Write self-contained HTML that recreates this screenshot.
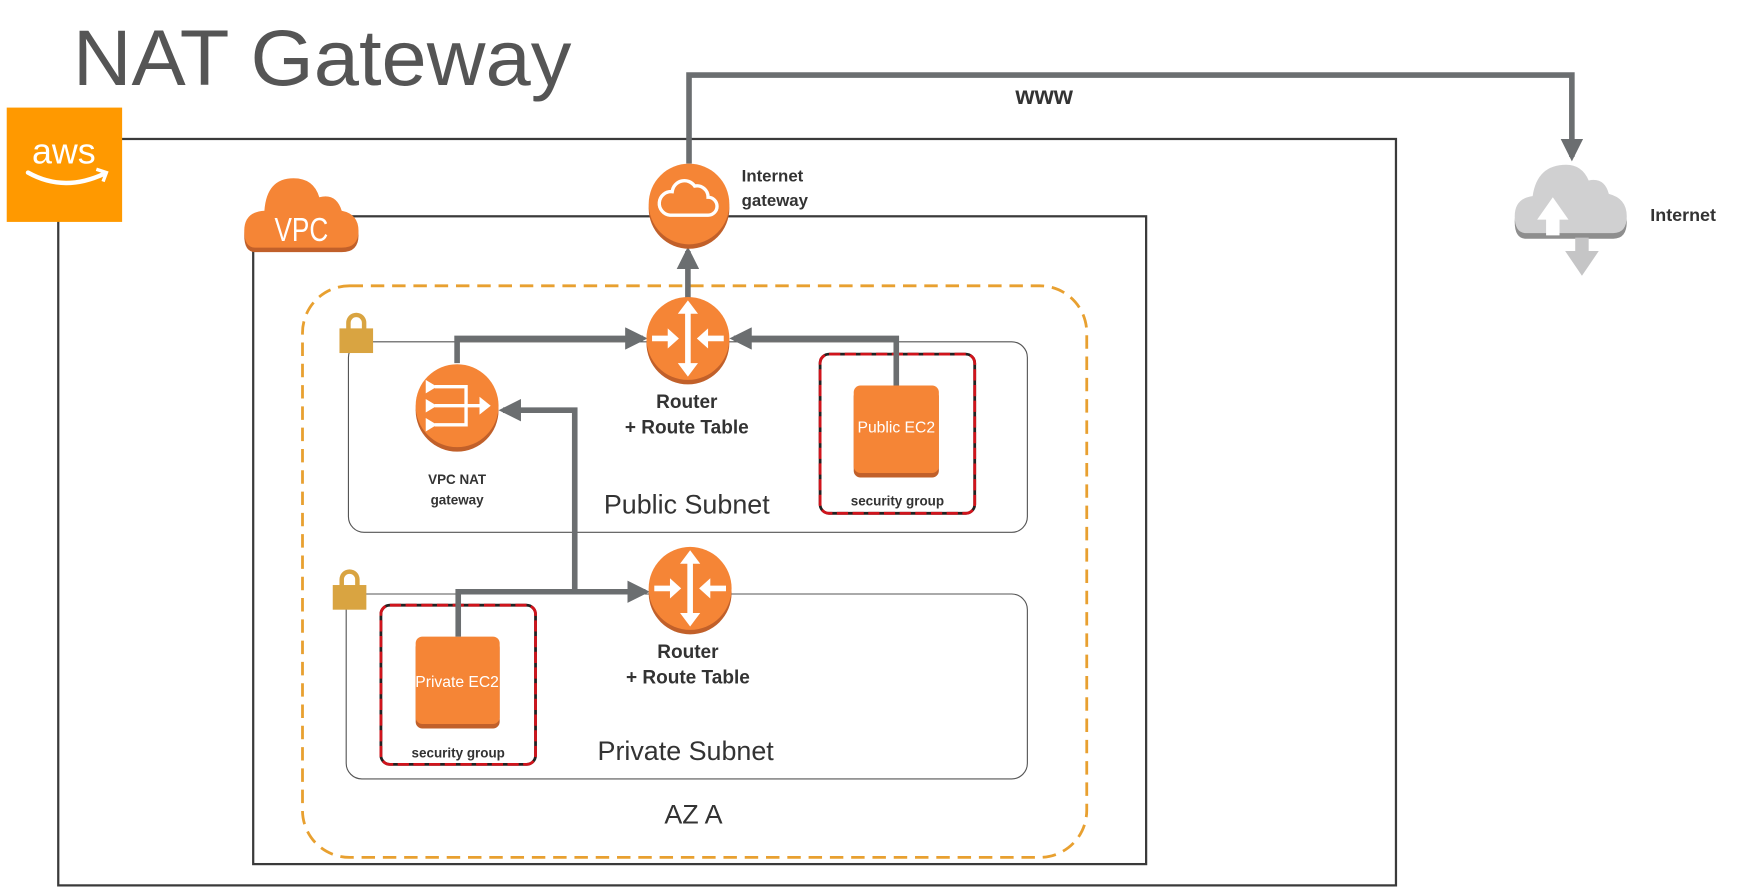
<!DOCTYPE html>
<html><head><meta charset="utf-8"><style>
html,body{margin:0;padding:0;background:#fff;}
svg{display:block;}
text{font-family:"Liberation Sans",sans-serif;}
</style></head><body>
<svg width="1750" height="891" viewBox="0 0 1562 795" preserveAspectRatio="none" xmlns="http://www.w3.org/2000/svg">
<defs>
<marker id="ah" markerWidth="4" markerHeight="4" refX="3.2" refY="2" orient="auto" markerUnits="strokeWidth">
<path d="M0,0 L4,2 L0,4 z" fill="#6b6e70"/></marker>
</defs>
<rect width="1562" height="795" fill="#fff"/>
<text x="65" y="76" font-size="70" fill="#555" textLength="445" lengthAdjust="spacingAndGlyphs">NAT Gateway</text>

<!-- AWS outer -->
<rect x="52" y="124" width="1194" height="666" fill="none" stroke="#3a3a3a" stroke-width="2"/>
<rect x="6" y="96" width="103" height="102" fill="#FF9900"/>
<text x="57" y="146" font-size="32" fill="#fff" text-anchor="middle">aws</text>
<path d="M25,154 Q57,172 93,155" fill="none" stroke="#fff" stroke-width="4" stroke-linecap="round"/>
<path d="M86,151 L95,154 L92,162" fill="none" stroke="#fff" stroke-width="3"/>

<!-- VPC -->
<rect x="226" y="193" width="797" height="578" fill="none" stroke="#3a3a3a" stroke-width="2"/>
<g>
<path d="M228,225 Q218,225 218,210 Q218,193 236,192 Q238,163 262,163 Q280,163 285,180 Q300,176 305,192 Q320,195 320,210 Q320,225 305,225 Z" fill="#C1602A"/>
<path d="M228,221 Q218,221 218,206 Q218,189 236,188 Q238,159 262,159 Q280,159 285,176 Q300,172 305,188 Q320,191 320,206 Q320,221 305,221 Z" fill="#F58536"/>
<text x="269" y="215" font-size="30" fill="#fff" text-anchor="middle" textLength="48" lengthAdjust="spacingAndGlyphs">VPC</text>
</g>

<!-- AZ -->
<rect x="270" y="255" width="700" height="510" rx="42" fill="none" stroke="#E8A030" stroke-width="2.5" stroke-dasharray="12,7"/>

<!-- subnets -->
<rect x="311" y="305" width="606" height="170" rx="14" fill="none" stroke="#555" stroke-width="1"/>
<rect x="309" y="530" width="608" height="165" rx="14" fill="none" stroke="#555" stroke-width="1"/>
<g fill="#D9A441">
<rect x="303" y="293" width="30" height="22"/>
<path d="M309,294 V288 a9,9 0 0 1 18,0 V294 h-4 V288 a5,5 0 0 0 -10,0 V294z"/>
<rect x="297" y="522" width="30" height="22"/>
<path d="M303,523 V517 a9,9 0 0 1 18,0 V523 h-4 V517 a5,5 0 0 0 -10,0 V523z"/>
</g>

<!-- security groups -->
<rect x="732" y="316" width="138" height="142" rx="8" fill="none" stroke="#222" stroke-width="2.5"/>
<rect x="732" y="316" width="138" height="142" rx="8" fill="none" stroke="#D0141C" stroke-width="2.5" stroke-dasharray="10,4"/>
<rect x="340" y="540" width="138" height="142" rx="8" fill="none" stroke="#222" stroke-width="2.5"/>
<rect x="340" y="540" width="138" height="142" rx="8" fill="none" stroke="#D0141C" stroke-width="2.5" stroke-dasharray="10,4"/>
<rect x="762" y="348" width="76" height="78" rx="6" fill="#C1602A"/>
<rect x="762" y="344" width="76" height="78" rx="6" fill="#F58536"/>
<text x="800" y="386" font-size="14" fill="#fff" text-anchor="middle">Public EC2</text>
<rect x="371" y="572" width="75" height="78" rx="6" fill="#C1602A"/>
<rect x="371" y="568" width="75" height="78" rx="6" fill="#F58536"/>
<text x="408" y="613" font-size="14" fill="#fff" text-anchor="middle">Private EC2</text>
<text x="801" y="451" font-size="12" font-weight="bold" fill="#333" text-anchor="middle">security group</text>
<text x="409" y="676" font-size="12" font-weight="bold" fill="#333" text-anchor="middle">security group</text>

<!-- connectors -->
<g fill="none" stroke="#6b6e70" stroke-width="5">
<path d="M615,146 V67 H1403 V140" marker-end="url(#ah)"/>
<path d="M614,266 V224" marker-end="url(#ah)"/>
<path d="M408,324 V302 H574" marker-end="url(#ah)"/>
<path d="M800,344 V302 H655" marker-end="url(#ah)"/>
<path d="M409,568 V528 H576" marker-end="url(#ah)"/>
<path d="M513,528 V366 H449" marker-end="url(#ah)"/>
</g>

<!-- IGW -->
<circle cx="615" cy="186" r="36" fill="#C1602A"/>
<circle cx="615" cy="182" r="36" fill="#F58536"/>
<path d="M598,192 h34 a8,8 0 0 0 0,-16 a10,10 0 0 0 -12,-10 a11,11 0 0 0 -20,5 a10,10 0 0 0 -2,21z" fill="none" stroke="#fff" stroke-width="3"/>
<text x="662" y="162" font-size="15" font-weight="bold" fill="#333">Internet</text>
<text x="662" y="184" font-size="15" font-weight="bold" fill="#333">gateway</text>

<!-- Routers -->
<g>
<circle cx="614" cy="306" r="37" fill="#C1602A"/>
<circle cx="614" cy="302" r="37" fill="#F58536"/>
<path d="M614,276 V328" stroke="#fff" stroke-width="5"/>
<path d="M605,280 L614,268 L623,280z M605,324 L614,336 L623,324z" fill="#fff"/>
<path d="M582,302 H597 M631,302 H646" stroke="#fff" stroke-width="5"/>
<path d="M596,293 L606,302 L596,311z M632,293 L622,302 L632,311z" fill="#fff"/>
</g>
<g transform="translate(2,223)">
<circle cx="614" cy="306" r="37" fill="#C1602A"/>
<circle cx="614" cy="302" r="37" fill="#F58536"/>
<path d="M614,276 V328" stroke="#fff" stroke-width="5"/>
<path d="M605,280 L614,268 L623,280z M605,324 L614,336 L623,324z" fill="#fff"/>
<path d="M582,302 H597 M631,302 H646" stroke="#fff" stroke-width="5"/>
<path d="M596,293 L606,302 L596,311z M632,293 L622,302 L632,311z" fill="#fff"/>
</g>
<text x="613" y="364" font-size="17" font-weight="bold" fill="#333" text-anchor="middle">Router</text>
<text x="613" y="387" font-size="17" font-weight="bold" fill="#333" text-anchor="middle">+ Route Table</text>
<text x="614" y="587" font-size="17" font-weight="bold" fill="#333" text-anchor="middle">Router</text>
<text x="614" y="610" font-size="17" font-weight="bold" fill="#333" text-anchor="middle">+ Route Table</text>

<!-- NAT -->
<circle cx="408" cy="366" r="37" fill="#C1602A"/>
<circle cx="408" cy="362" r="37" fill="#F58536"/>
<g stroke="#fff" stroke-width="3" fill="none">
<path d="M388,345 H416 V379 H388 M388,362 H430"/>
</g>
<path d="M428,354 L438,362 L428,370z" fill="#fff"/>
<path d="M380,339 L390,345 L380,351z M380,356 L390,362 L380,368z M380,373 L390,379 L380,385z" fill="#fff"/>
<text x="408" y="432" font-size="12" font-weight="bold" fill="#333" text-anchor="middle">VPC NAT</text>
<text x="408" y="450" font-size="12" font-weight="bold" fill="#333" text-anchor="middle">gateway</text>

<text x="613" y="458" font-size="24" fill="#333" text-anchor="middle">Public Subnet</text>
<text x="612" y="678" font-size="24" fill="#333" text-anchor="middle">Private Subnet</text>
<text x="619" y="735" font-size="24" fill="#333" text-anchor="middle">AZ A</text>

<text x="932" y="93" font-size="22" font-weight="bold" fill="#333" text-anchor="middle">www</text>

<!-- Internet cloud -->
<path d="M1362,213 Q1352,213 1352,198 Q1352,182 1368,180 Q1372,152 1398,152 Q1412,152 1418,166 Q1432,163 1436,178 Q1452,182 1452,198 Q1452,213 1440,213 Z" fill="#8e8e8e"/>
<path d="M1362,208 Q1352,208 1352,193 Q1352,177 1368,175 Q1372,147 1398,147 Q1412,147 1418,161 Q1432,158 1436,173 Q1452,177 1452,193 Q1452,208 1440,208 Z" fill="#d0d0d1"/>
<path d="M1380,210 V196 H1372 L1386,176 L1400,196 H1392 V210z" fill="#fff"/>
<path d="M1406,212 V224 H1397 L1412,246 L1427,224 H1418 V212z" fill="#c5c5c6"/>
<text x="1473" y="197" font-size="16" font-weight="bold" fill="#333">Internet</text>
</svg>
</body></html>
